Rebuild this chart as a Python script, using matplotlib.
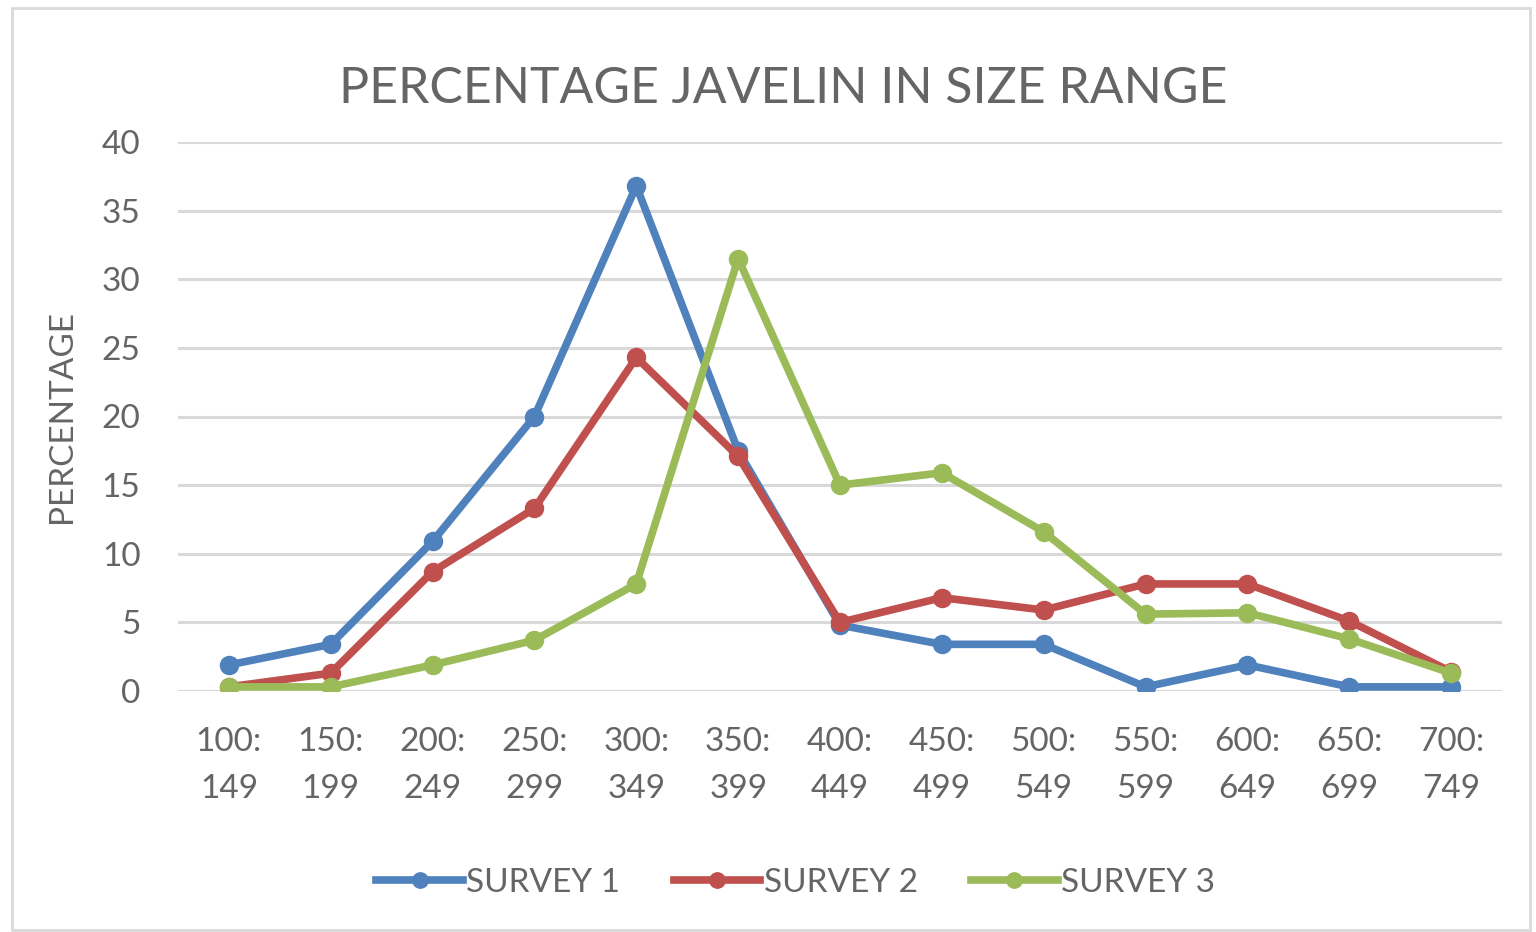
import matplotlib
matplotlib.use("Agg")
import matplotlib.pyplot as plt
from matplotlib.patches import Rectangle

ranges = ["100:\n149", "150:\n199", "200:\n249", "250:\n299", "300:\n349",
          "350:\n399", "400:\n449", "450:\n499", "500:\n549", "550:\n599",
          "600:\n649", "650:\n699", "700:\n749"]
survey1 = [1.9, 3.4, 10.9, 20.0, 36.8, 17.5, 4.8, 3.4, 3.4, 0.3, 1.9, 0.3, 0.3]
survey2 = [0.3, 1.3, 8.7, 13.3, 24.3, 17.1, 5.0, 6.8, 5.9, 7.8, 7.8, 5.1, 1.4]
survey3 = [0.3, 0.3, 1.9, 3.7, 7.8, 31.5, 15.0, 15.9, 11.6, 5.6, 5.7, 3.8, 1.3]
series_names = ["SURVEY 1", "SURVEY 2", "SURVEY 3"]
colors = ["#4F81BD", "#C0504D", "#9BBB59"]

plt.rcParams["font.family"] = ["Lato", "DejaVu Sans"]
text_color = "#656565"

fig = plt.figure(figsize=(15.36, 9.32), dpi=100)
ax = fig.add_axes([178 / 1536, 1 - 691 / 932, 1324 / 1536, 549 / 932])

x = list(range(len(ranges)))
for vals, name, c in zip([survey1, survey2, survey3], series_names, colors):
    ax.plot(x, vals, color=c, linewidth=5.5, marker="o", markersize=13,
            label=name, solid_joinstyle="round", zorder=3)

ax.set_xlim(-0.5, len(ranges) - 0.5)
ax.set_ylim(0, 40)
ax.set_yticks(range(0, 41, 5))
ax.set_xticks(x)
ax.set_xticklabels(ranges, linespacing=1.7)
ax.tick_params(axis="both", length=0, labelsize=24, labelcolor=text_color)
ax.tick_params(axis="y", pad=27)
ax.tick_params(axis="x", pad=26)
ax.grid(axis="y", color="#D9D9D9", linewidth=2.2, zorder=0)
ax.set_axisbelow(True)
for s in ax.spines.values():
    s.set_visible(False)

ax.set_ylabel("PERCENTAGE", fontsize=24, color=text_color)
ax.yaxis.set_label_coords(-0.076, 0.5)

fig.text(0.51, 0.905, "PERCENTAGE JAVELIN IN SIZE RANGE", ha="center",
         va="center", fontsize=36, color=text_color)

leg = fig.legend(loc="center", bbox_to_anchor=(0.518, 0.053), ncol=3,
                 frameon=False, fontsize=24, handlelength=2.6,
                 handletextpad=0.1, columnspacing=1.6, markerscale=0.85)
for t in leg.get_texts():
    t.set_color(text_color)

fig.patches.append(Rectangle((12 / 1536, 2 / 932), 1518 / 1536, 922 / 932,
                             transform=fig.transFigure, fill=False,
                             edgecolor="#D9D9D9", linewidth=2))

fig.savefig("out.png", dpi=100)
